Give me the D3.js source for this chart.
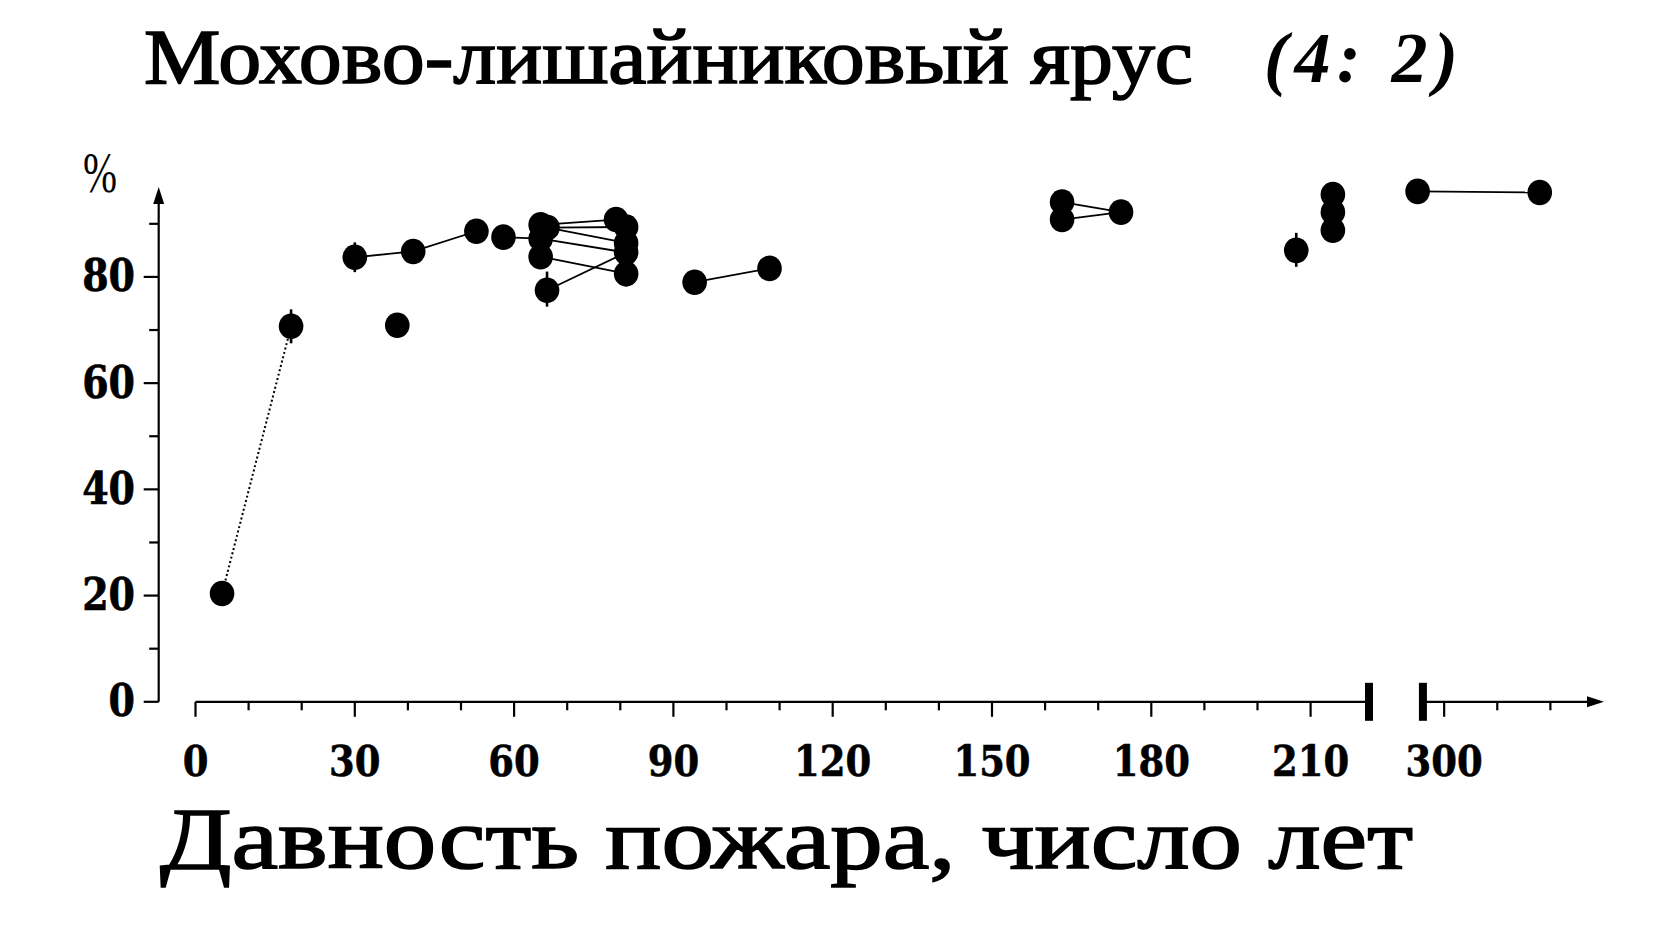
<!DOCTYPE html>
<html>
<head>
<meta charset="utf-8">
<script src="https://cdn.jsdelivr.net/npm/d3@7"></script>
<style>
  html, body { margin: 0; padding: 0; background: #fff; }
  svg { display: block; }
</style>
</head>
<body>
<svg id="chart" width="1670" height="925"></svg>
<script>
// ---------------- DATA ----------------
const titleMain = "Мохово-лишайниковый ярус";
const titleCode = "(4: 2)";
const xTitle = "Давность пожара, число лет";
const yUnit = "%";

const xMajorTicks = [0, 30, 60, 90, 120, 150, 180, 210, 300];
const xMinorTicks = [10, 20, 40, 50, 70, 80, 100, 110, 130, 140, 160, 170, 190, 200, 310, 320];
const yMajorTicks = [0, 20, 40, 60, 80];
const yMinorTicks = [10, 30, 50, 70, 90];

// fire age (years) and cover (%) of each observation
const years  = [5, 18, 30, 38, 41, 52.9, 58, 65, 66.3, 65, 65, 66.2, 79.2, 81.1, 81.1, 81.1, 81.1, 94, 108.1, 163.2, 163.2, 174.3, 207.3, 214.2, 214.2, 214.2, 295, 318];
const values = [20.4, 70.7, 83.7, 70.9, 84.8, 88.6, 87.5, 89.8, 89.3, 87.2, 83.8, 77.5, 90.8, 89.4, 86.4, 84.6, 80.6, 79.0, 81.6, 94.1, 90.8, 92.2, 85.0, 95.5, 92.2, 88.8, 96.1, 95.9];
// error bars (null = none)
const errLow  = [null, 67.5, 80.9, null, null, null, null, null, null, null, null, 74.4, null, null, null, null, 78.2, null, null, null, null, null, 81.9, null, null, null, null, null];
const errHigh = [null, 73.9, 86.5, null, null, null, null, null, null, null, null, 81.0, null, null, null, null, 83.0, null, null, null, null, null, 88.3, null, null, null, null, null];

// links between repeated observations (index pairs)
const linkFrom   = [0, 2, 4, 6, 7, 8, 8, 9, 10, 11, 17, 19, 20, 26];
const linkTo     = [1, 4, 5, 9, 12, 13, 14, 15, 16, 15, 18, 21, 21, 27];
const linkDotted = [true, false, false, false, false, false, false, false, false, false, false, false, false, false];

// axis break (in years)
const breakStart = 221;
const breakEnd = 295;
const xMaxDomain = 330;

// ---------------- DRAW ----------------
const svg = d3.select("#chart");
const serif = "'Liberation Serif', 'DejaVu Serif', serif";
const boldSerif = "'DejaVu Serif', serif";

const x = d3.scaleLinear()
  .domain([0, breakStart, breakEnd, xMaxDomain])
  .range([195.5, 1369, 1417.6, 1603.5]);
const y = d3.scaleLinear().domain([0, 100]).range([701.8, 170.7]);

const yAxisX = 158.7;
const axisY = y(0);
const ink = "#000";

// Title
svg.append("text")
  .attr("x", 144).attr("y", 83)
  .attr("font-family", serif).attr("font-size", 78)
  .attr("textLength", 1049).attr("lengthAdjust", "spacingAndGlyphs")
  .attr("fill", ink).attr("stroke", ink).attr("stroke-width", 1.6)
  .text(titleMain);
svg.append("text")
  .attr("x", 1264).attr("y", 82)
  .attr("font-family", serif).attr("font-size", 72)
  .attr("font-style", "italic").attr("font-weight", "bold")
  .attr("textLength", 194).attr("lengthAdjust", "spacing")
  .attr("fill", ink)
  .text(titleCode);

// % unit
svg.append("text")
  .attr("x", 83).attr("y", 192)
  .attr("font-family", serif).attr("font-size", 56)
  .attr("textLength", 34).attr("lengthAdjust", "spacingAndGlyphs")
  .attr("fill", ink)
  .text(yUnit);

// Y axis line + arrow
svg.append("line")
  .attr("x1", yAxisX).attr("x2", yAxisX)
  .attr("y1", axisY).attr("y2", 200)
  .attr("stroke", ink).attr("stroke-width", 2.2);
svg.append("path")
  .attr("d", `M${yAxisX},187 L${yAxisX - 5.5},204 L${yAxisX + 5.5},204 Z`)
  .attr("fill", ink);

// Y ticks
svg.selectAll(".ytM").data(yMajorTicks).enter().append("line")
  .attr("x1", yAxisX - 15).attr("x2", yAxisX)
  .attr("y1", d => y(d)).attr("y2", d => y(d))
  .attr("stroke", ink).attr("stroke-width", 2.2);
svg.selectAll(".ytm").data(yMinorTicks).enter().append("line")
  .attr("x1", yAxisX - 9.5).attr("x2", yAxisX)
  .attr("y1", d => y(d)).attr("y2", d => y(d))
  .attr("stroke", ink).attr("stroke-width", 2.2);
svg.selectAll(".ytl").data(yMajorTicks).enter().append("text")
  .attr("transform", d => `translate(135,${y(d) + 14.5}) scale(1,1.18)`)
  .attr("text-anchor", "end")
  .attr("font-family", boldSerif).attr("font-weight", "bold").attr("font-size", 38)
  .attr("fill", ink).attr("stroke", ink).attr("stroke-width", 0.6)
  .text(d => d);

// X axis line (with gap at the break) + arrow
svg.append("line")
  .attr("x1", x(0)).attr("x2", x(breakStart))
  .attr("y1", axisY).attr("y2", axisY)
  .attr("stroke", ink).attr("stroke-width", 2.2);
svg.append("line")
  .attr("x1", x(breakEnd + 1)).attr("x2", 1590)
  .attr("y1", axisY).attr("y2", axisY)
  .attr("stroke", ink).attr("stroke-width", 2.2);
svg.append("path")
  .attr("d", `M1604,${axisY} L1587,${axisY - 5.5} L1587,${axisY + 5.5} Z`)
  .attr("fill", ink);

// break bars
[breakStart, breakEnd + 1].forEach(b => {
  svg.append("rect")
    .attr("x", x(b) - 4).attr("y", axisY - 19)
    .attr("width", 8).attr("height", 38)
    .attr("fill", ink);
});

// X ticks
svg.selectAll(".xtM").data(xMajorTicks).enter().append("line")
  .attr("x1", d => x(d)).attr("x2", d => x(d))
  .attr("y1", axisY).attr("y2", axisY + 15)
  .attr("stroke", ink).attr("stroke-width", 2.2);
svg.selectAll(".xtm").data(xMinorTicks).enter().append("line")
  .attr("x1", d => x(d)).attr("x2", d => x(d))
  .attr("y1", axisY).attr("y2", axisY + 8.5)
  .attr("stroke", ink).attr("stroke-width", 2.2);
svg.selectAll(".xtl").data(xMajorTicks).enter().append("text")
  .attr("transform", d => `translate(${x(d)},776) scale(1,1.18)`)
  .attr("text-anchor", "middle")
  .attr("font-family", boldSerif).attr("font-weight", "bold").attr("font-size", 37)
  .attr("fill", ink).attr("stroke", ink).attr("stroke-width", 0.5)
  .text(d => d);

// X title
svg.append("text")
  .attr("x", 160).attr("y", 868)
  .attr("font-family", serif).attr("font-size", 86)
  .attr("textLength", 1253).attr("lengthAdjust", "spacingAndGlyphs")
  .attr("fill", ink).attr("stroke", ink).attr("stroke-width", 1.6)
  .text(xTitle);

// Links
const links = linkFrom.map((f, i) => ({ f, t: linkTo[i], dotted: linkDotted[i] }));
svg.selectAll(".link").data(links).enter().append("line")
  .attr("x1", d => x(years[d.f])).attr("y1", d => y(values[d.f]))
  .attr("x2", d => x(years[d.t])).attr("y2", d => y(values[d.t]))
  .attr("stroke", ink)
  .attr("stroke-width", d => d.dotted ? 2 : 1.8)
  .attr("stroke-dasharray", d => d.dotted ? "2,2.5" : null);

// Points data
const pts = years.map((yr, i) => ({ yr, v: values[i], lo: errLow[i], hi: errHigh[i] }));

// Error bars
svg.selectAll(".err").data(pts.filter(p => p.lo !== null)).enter().append("line")
  .attr("x1", d => x(d.yr)).attr("x2", d => x(d.yr))
  .attr("y1", d => y(d.lo)).attr("y2", d => y(d.hi))
  .attr("stroke", ink).attr("stroke-width", 2.6);

// Points
svg.selectAll(".pt").data(pts).enter().append("ellipse")
  .attr("cx", d => x(d.yr)).attr("cy", d => y(d.v))
  .attr("rx", 12.3).attr("ry", 12.8)
  .attr("fill", ink);
</script>
</body>
</html>
